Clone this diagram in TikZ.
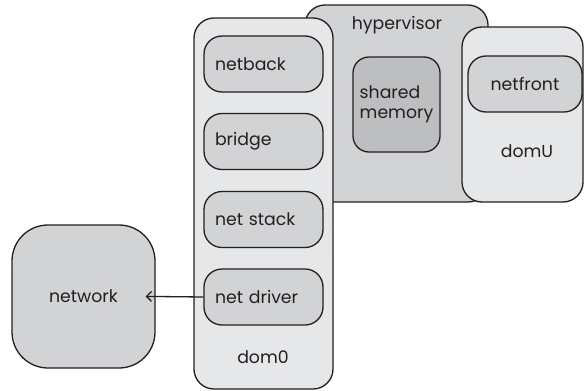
\documentclass[tikz,border=0pt]{standalone}
\usepackage{fontspec}
\setmainfont{Poppins}
\usetikzlibrary{arrows.meta}
\definecolor{linec}{HTML}{231F20}
\definecolor{outerfill}{HTML}{E6E7E8}
\definecolor{hypfill}{HTML}{D1D3D4}
\definecolor{innerfill}{HTML}{D1D3D4}
\definecolor{memfill}{HTML}{BCBEC0}
\begin{document}
\begin{tikzpicture}[x=1pt,y=-1pt,
  font=\fontsize{17.3}{19.5}\selectfont,
  shell/.style={draw=linec, line width=1.3pt, rounded corners=#1, inner sep=0pt},
  outerbox/.style={shell=20pt, fill=outerfill},
  hypbox/.style={shell=20pt, fill=hypfill},
  innerbox/.style={shell=18pt, fill=innerfill, minimum height=56pt, inner xsep=11pt, text width=97pt, align=left, text=linec},
  membox/.style={shell=16pt, fill=memfill, text=linec, align=left},
  netbox/.style={shell=36pt, fill=hypfill, text=linec},
  lbl/.style={text=linec, inner sep=0pt},
  link/.style={draw=linec, line width=1.3pt, -{Straight Barb[length=5pt,width=10pt,line width=1.3pt]}}
]
\useasboundingbox (0,0) rectangle (584,391);
% hypervisor (behind)
\node[hypbox, minimum width=183pt, minimum height=197pt] (hyp) at (396.5,103.5) {};
\node[lbl] (hyplbl) at (397,25) {hypervisor};
\node[membox, minimum width=87pt, minimum height=95pt] (mem) at (396.5,104.5) {shared\\memory};
% dom0
\node[outerbox, minimum width=139pt, minimum height=371pt] (dom0) at (263.5,203.5) {};
\node[lbl] (dom0lbl) at (263,357) {dom0};
\node[innerbox] (netback) at (263.5,64) {netback};
\node[innerbox] (bridge) at (263.5,141.5) {bridge};
\node[innerbox] (netstack) at (263.5,219.5) {net stack};
\node[innerbox] (netdriver) at (263.5,297) {net driver};
% domU
\node[outerbox, minimum width=121pt, minimum height=175pt] (domU) at (522.5,114.5) {};
\node[lbl] (domUlbl) at (527,151) {domU};
\node[innerbox, text width=114pt, inner xsep=0pt, align=center] (netfront) at (525,84) {netfront};
% network
\node[netbox, minimum width=143pt, minimum height=143pt] (network) at (83.5,296.5) {network};
% connector
\draw[link, shorten >=-10pt] (netdriver.west) -- (network.east);
\end{tikzpicture}
\end{document}
